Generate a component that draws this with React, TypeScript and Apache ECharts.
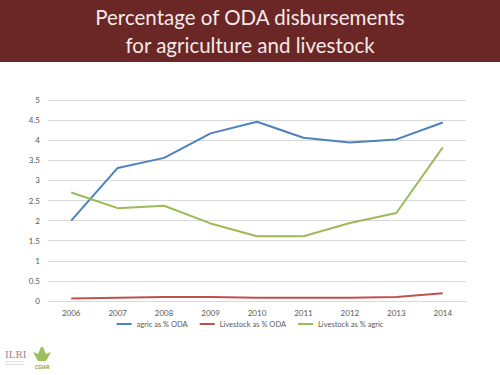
import React, { useEffect, useRef } from "react";
import * as echarts from "echarts";

const years = ["2006", "2007", "2008", "2009", "2010", "2011", "2012", "2013", "2014"];
const agricPctODA = [2.0, 3.31, 3.56, 4.17, 4.46, 4.06, 3.94, 4.02, 4.44];
const livestockPctODA = [0.06, 0.08, 0.1, 0.1, 0.08, 0.08, 0.08, 0.1, 0.19];
const livestockPctAgric = [2.7, 2.31, 2.37, 1.93, 1.61, 1.61, 1.94, 2.19, 3.82];
const seriesNames = ["agric as % ODA", "Livestock as % ODA", "Livestock as % agric"];
const titleLines = ["Percentage of ODA disbursements", "for agriculture and livestock"];

export default function App() {
  const ref = useRef<HTMLDivElement>(null);
  useEffect(() => {
    if (!ref.current) return;
    const chart = echarts.init(ref.current, undefined, { renderer: "svg" });
    const font = "Lato, 'Open Sans', sans-serif";
    chart.setOption({
      animation: false,
      backgroundColor: "#ffffff",
      textStyle: { fontFamily: font },
      graphic: [
        { type: "rect", shape: { x: 0, y: 0, width: 500, height: 62 }, style: { fill: "#6B2626" }, z: 0 },
        {
          type: "text",
          x: 250,
          y: 31,
          style: {
            text: titleLines.join("\n"),
            fill: "#F5E9E9",
            font: "20.5px " + font,
            align: "center",
            verticalAlign: "middle",
            lineHeight: 28,
          },
        },
        {
          type: "text",
          x: 5,
          y: 348,
          style: { text: "ILRI", fill: "#9C8A9A", font: "11px 'Liberation Serif', serif" },
        },
        { type: "rect", shape: { x: 5, y: 361, width: 19, height: 1 }, style: { fill: "#E2DCE0" } },
        { type: "rect", shape: { x: 5, y: 364, width: 19, height: 1 }, style: { fill: "#E2DCE0" } },
        {
          type: "text",
          x: 35,
          y: 365,
          style: { text: "CGIAR", fill: "#7AA03A", font: "bold 4.5px sans-serif" },
        },
        {
          type: "polygon",
          shape: { points: [[33, 352], [38, 354], [41, 347], [43, 347], [46, 354], [51, 352], [46, 361], [38, 361]] },
          style: { fill: "#9BBE5E" },
        },
      ],
      legend: {
        data: seriesNames,
        bottom: 42,
        left: "center",
        icon: "rect",
        itemWidth: 15,
        itemHeight: 2,
        itemGap: 12,
        textStyle: { fontSize: 7.5, color: "#595959", fontFamily: font },
      },
      grid: { left: 48, right: 34, top: 100, bottom: 74, containLabel: false },
      xAxis: {
        type: "category",
        data: years,
        boundaryGap: true,
        axisLine: { lineStyle: { color: "#D9D9D9" } },
        axisTick: { show: false },
        axisLabel: { fontSize: 8, color: "#595959", margin: 8 },
      },
      yAxis: {
        type: "value",
        min: 0,
        max: 5,
        interval: 0.5,
        axisLine: { show: false },
        axisTick: { show: false },
        splitLine: { lineStyle: { color: "#D9D9D9" } },
        axisLabel: { fontSize: 8, color: "#595959", margin: 8 },
      },
      series: [
        { name: seriesNames[0], type: "line", data: agricPctODA, symbol: "none", lineStyle: { width: 2, color: "#4F81BD" }, itemStyle: { color: "#4F81BD" } },
        { name: seriesNames[1], type: "line", data: livestockPctODA, symbol: "none", lineStyle: { width: 2, color: "#C0504D" }, itemStyle: { color: "#C0504D" } },
        { name: seriesNames[2], type: "line", data: livestockPctAgric, symbol: "none", lineStyle: { width: 2, color: "#9BBB59" }, itemStyle: { color: "#9BBB59" } },
      ],
    });
    return () => chart.dispose();
  }, []);
  return <div ref={ref} style={{ position: "absolute", left: 0, top: 0, width: 500, height: 375 }} />;
}
